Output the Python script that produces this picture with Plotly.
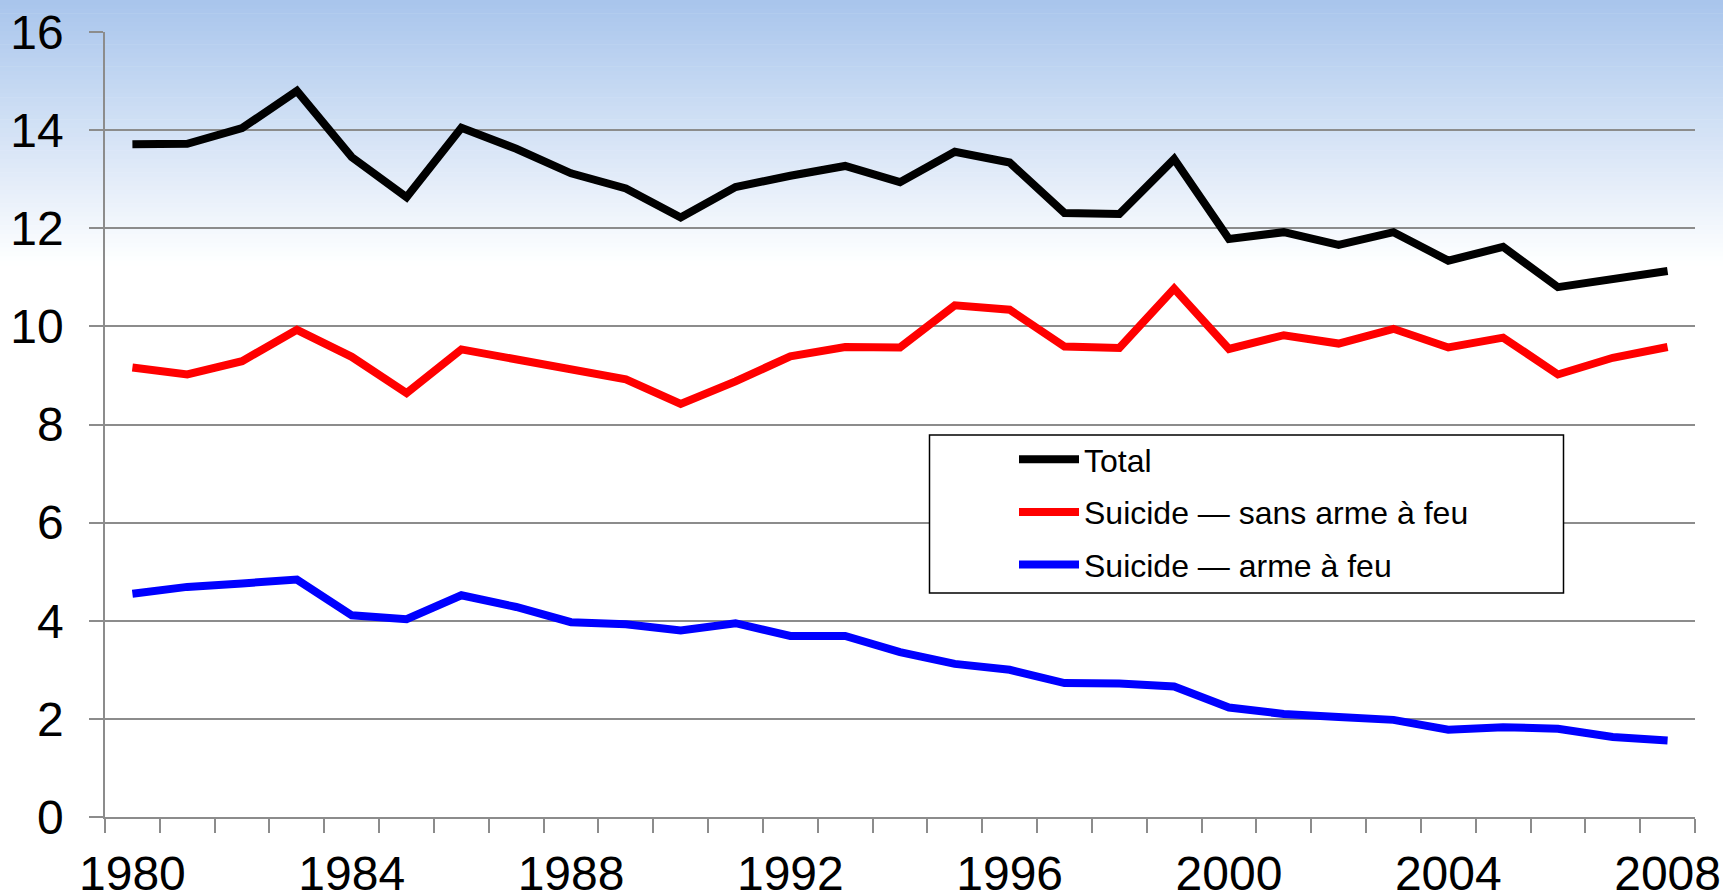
import plotly.graph_objects as go

years = list(range(1980, 2009))
total = [13.71, 13.72, 14.04, 14.80, 13.45, 12.63, 14.05, 13.62, 13.12, 12.81,
         12.22, 12.84, 13.07, 13.27, 12.94, 13.56, 13.34, 12.31, 12.29, 13.41,
         11.78, 11.92, 11.66, 11.92, 11.34, 11.62, 10.80, 10.98, 11.13]
sans_arme = [9.16, 9.02, 9.29, 9.93, 9.38, 8.64, 9.53, 9.34, 9.14, 8.92,
             8.42, 8.88, 9.39, 9.58, 9.57, 10.43, 10.34, 9.59, 9.56, 10.77,
             9.54, 9.82, 9.65, 9.95, 9.57, 9.77, 9.02, 9.36, 9.58]
arme = [4.55, 4.69, 4.76, 4.84, 4.11, 4.03, 4.52, 4.28, 3.97, 3.93,
        3.80, 3.95, 3.69, 3.69, 3.36, 3.12, 3.00, 2.73, 2.72, 2.66,
        2.23, 2.10, 2.04, 1.98, 1.78, 1.83, 1.80, 1.63, 1.56]
series_names = ["Total", "Suicide \u2014 sans arme \u00e0 feu", "Suicide \u2014 arme \u00e0 feu"]
series_colors = ["#000000", "#FF0000", "#0000FF"]
tick_years = [1980, 1984, 1988, 1992, 1996, 2000, 2004, 2008]
tick_labels = [str(y) for y in tick_years]
y_ticks = [0, 2, 4, 6, 8, 10, 12, 14, 16]

W, H = 1723, 895
ML, MR, MT, MB = 105, 28, 32, 78
PW, PH = W - ML - MR, H - MT - MB

fig = go.Figure()
for name, vals, col in zip(series_names, [total, sans_arme, arme], series_colors):
    fig.add_trace(go.Scatter(x=years, y=vals, name=name, mode="lines",
                             line=dict(color=col, width=8), legendgroup=name))

def px2paper_x(px):
    return (px - ML) / PW

def px2paper_y(py):
    return (H - MB - py) / PH

shapes = []
# background vertical gradient (light blue top -> white)
top_rgb = (168, 197, 236)
n = 60
g_end = 265.0
for i in range(n):
    y0p = g_end * i / n
    y1p = g_end * (i + 1) / n + 0.6
    t = (i + 0.5) / n
    r = round(top_rgb[0] + (255 - top_rgb[0]) * t)
    g = round(top_rgb[1] + (255 - top_rgb[1]) * t)
    b = round(top_rgb[2] + (255 - top_rgb[2]) * t)
    shapes.append(dict(type="rect", xref="paper", yref="paper", layer="below",
                       x0=px2paper_x(0), x1=px2paper_x(W), y0=px2paper_y(y1p), y1=px2paper_y(y0p),
                       line=dict(width=0), fillcolor=f"rgb({r},{g},{b})"))
# legend box
shapes.append(dict(type="rect", xref="paper", yref="paper", layer="above",
                   x0=px2paper_x(929.5), x1=px2paper_x(1563.5),
                   y0=px2paper_y(593), y1=px2paper_y(435),
                   line=dict(color="#000000", width=1.5), fillcolor="white"))

grid = "#8C8C8C"
fig.update_layout(
    width=W, height=H,
    margin=dict(l=ML, r=MR, t=MT, b=MB, autoexpand=False),
    paper_bgcolor="white", plot_bgcolor="rgba(0,0,0,0)",
    font=dict(family="Liberation Sans, Arial, sans-serif", color="#000000"),
    shapes=shapes,
    showlegend=True,
    legend=dict(x=px2paper_x(1014), y=px2paper_y(432), xanchor="left", yanchor="top",
                bgcolor="rgba(0,0,0,0)", borderwidth=0, font=dict(size=32),
                tracegroupgap=8, traceorder="grouped", itemwidth=60),
    xaxis=dict(range=[1979.5, 2008.5], tickmode="array", tickvals=tick_years, ticktext=tick_labels,
               ticks="", showgrid=False, zeroline=False, showline=True, linecolor=grid, linewidth=1.5,
               tickfont=dict(size=48), ticklabelstandoff=14, automargin=False,
               minor=dict(tick0=1979.5, dtick=1, ticks="outside", ticklen=14, tickcolor=grid,
                          tickwidth=1.5, showgrid=False)),
    yaxis=dict(range=[0, 16], tickmode="array", tickvals=y_ticks, ticks="outside", ticklen=14,
               tickcolor=grid, tickwidth=1.5, showgrid=True, gridcolor=grid, gridwidth=1.5,
               zeroline=False, showline=True, linecolor=grid, linewidth=1.5,
               tickfont=dict(size=48), ticklabelstandoff=16, automargin=False),
)
fig.write_html("out.html", config={"displayModeBar": False},
               post_script="document.body.style.margin='0';document.body.style.overflow='hidden';")
